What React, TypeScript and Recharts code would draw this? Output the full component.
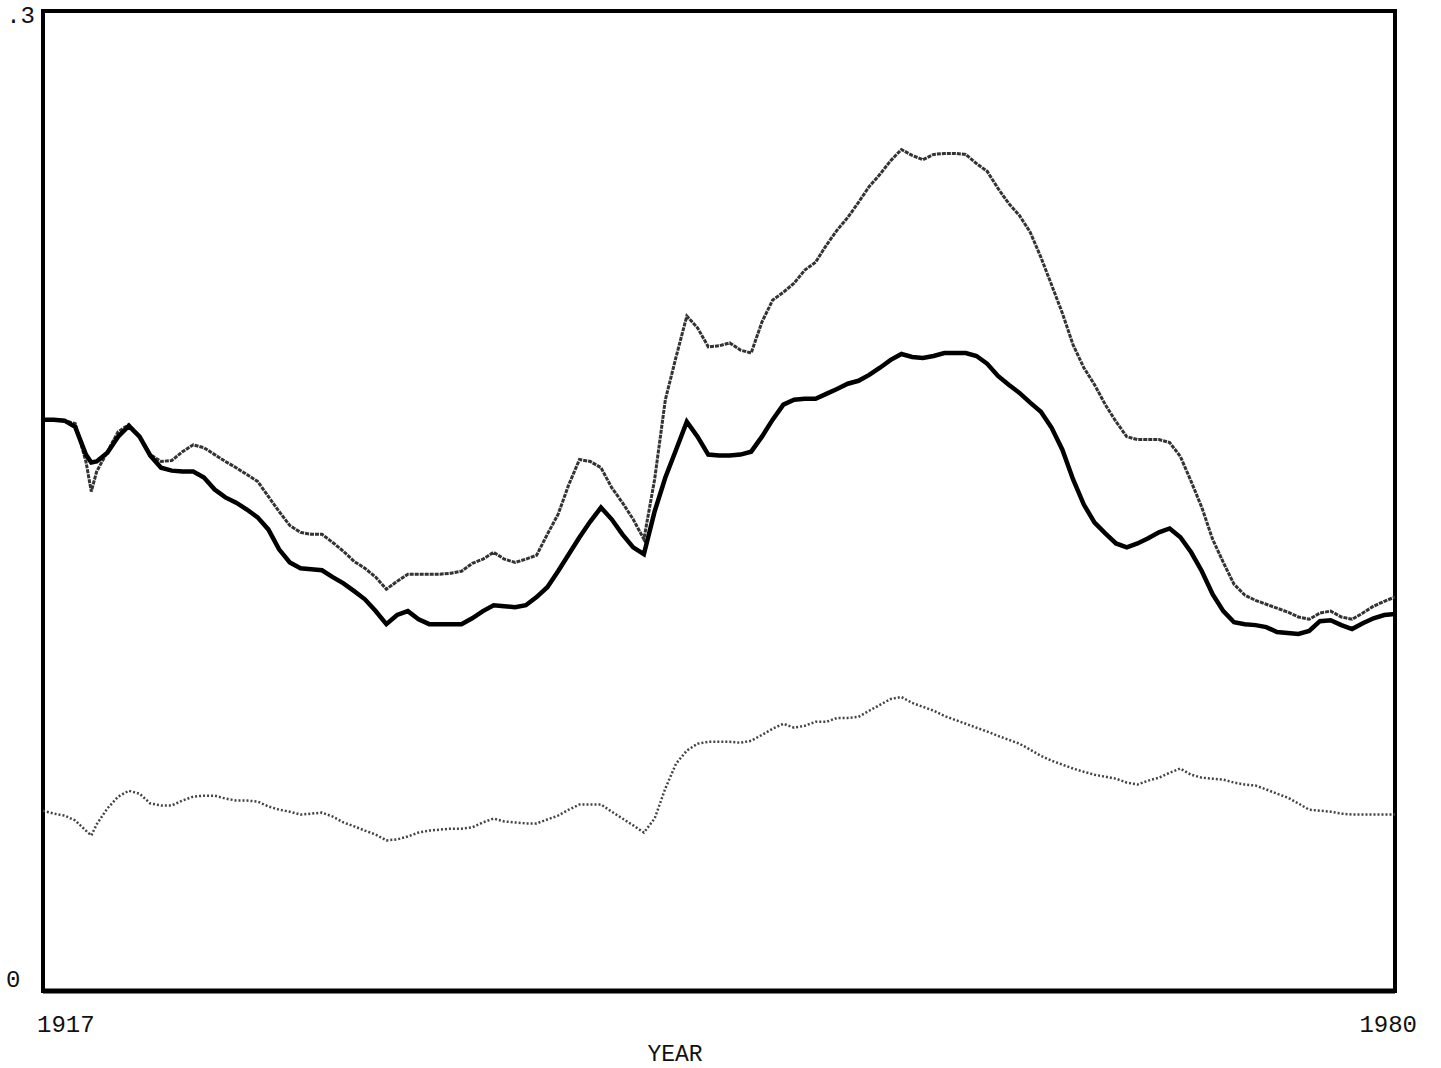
import React from 'react';
import { LineChart, Line, XAxis, YAxis, ReferenceArea } from 'recharts';

const YEARS = [
  1917, 1917.5, 1918, 1918.5, 1919, 1919.25, 1919.5,
  1920, 1920.5, 1921, 1921.5, 1922, 1922.5, 1923, 1923.5, 1924, 1924.5,
  1925, 1925.5, 1926, 1926.5, 1927, 1927.5, 1928, 1928.5, 1929, 1929.5,
  1930, 1930.5, 1931, 1931.5, 1932, 1932.5, 1933, 1933.5, 1934, 1934.5,
  1935, 1935.5, 1936, 1936.5, 1937, 1937.5, 1938, 1938.5, 1939, 1939.5,
  1940, 1940.5, 1941, 1941.5, 1942, 1942.5, 1943, 1943.5, 1944, 1944.5,
  1945, 1945.5, 1946, 1946.5, 1947, 1947.5, 1948, 1948.5, 1949, 1949.5,
  1950, 1950.5, 1951, 1951.5, 1952, 1952.5, 1953, 1953.5, 1954, 1954.5,
  1955, 1955.5, 1956, 1956.5, 1957, 1957.5, 1958, 1958.5, 1959, 1959.5,
  1960, 1960.5, 1961, 1961.5, 1962, 1962.5, 1963, 1963.5, 1964, 1964.5,
  1965, 1965.5, 1966, 1966.5, 1967, 1967.5, 1968, 1968.5, 1969, 1969.5,
  1970, 1970.5, 1971, 1971.5, 1972, 1972.5, 1973, 1973.5, 1974, 1974.5,
  1975, 1975.5, 1976, 1976.5, 1977, 1977.5, 1978, 1978.5, 1979, 1979.5,
  1980,
];

const UPPER = [
  0.1749, 0.1749, 0.1746, 0.1737, 0.1621, 0.1529,
  0.1590, 0.1651, 0.1712, 0.1734, 0.1697,
  0.1642, 0.1621, 0.1624, 0.1651, 0.1672, 0.1663, 0.1642, 0.1621, 0.1602, 0.1581,
  0.1560, 0.1514, 0.1468, 0.1425, 0.1404, 0.1398, 0.1398, 0.1373, 0.1346, 0.1315,
  0.1294, 0.1267, 0.1230, 0.1254, 0.1276, 0.1276, 0.1276, 0.1276, 0.1279, 0.1285,
  0.1309, 0.1322, 0.1343, 0.1322, 0.1312, 0.1322, 0.1334, 0.1398, 0.1459, 0.1550,
  0.1627, 0.1621, 0.1602, 0.1541, 0.1495, 0.1444, 0.1383, 0.1566, 0.1810, 0.1941,
  0.2066, 0.2030, 0.1972, 0.1975, 0.1984, 0.1962, 0.1953, 0.2048, 0.2115, 0.2139,
  0.2167, 0.2207, 0.2231, 0.2283, 0.2329, 0.2368, 0.2414, 0.2463, 0.2500, 0.2542,
  0.2576, 0.2558, 0.2545, 0.2561, 0.2564, 0.2564, 0.2561, 0.2533, 0.2509, 0.2457,
  0.2411, 0.2374, 0.2323, 0.2246, 0.2161, 0.2075, 0.1978, 0.1908, 0.1856, 0.1795,
  0.1743, 0.1697, 0.1688, 0.1688, 0.1688, 0.1679, 0.1636, 0.1560, 0.1480, 0.1383,
  0.1312, 0.1245, 0.1212, 0.1196, 0.1184, 0.1172, 0.1160, 0.1145, 0.1138, 0.1157,
  0.1163, 0.1145, 0.1138, 0.1157, 0.1178, 0.1193, 0.1206,
];

const MIDDLE = [
  0.1749, 0.1749, 0.1746, 0.1727, 0.1642, 0.1618,
  0.1621, 0.1648, 0.1697, 0.1730, 0.1697,
  0.1639, 0.1602, 0.1593, 0.1590, 0.1590, 0.1572, 0.1535, 0.1511, 0.1495, 0.1474,
  0.1450, 0.1413, 0.1352, 0.1312, 0.1294, 0.1291, 0.1288, 0.1267, 0.1248, 0.1224,
  0.1199, 0.1163, 0.1123, 0.1151, 0.1163, 0.1138, 0.1123, 0.1123, 0.1123, 0.1123,
  0.1141, 0.1163, 0.1181, 0.1178, 0.1175, 0.1181, 0.1206, 0.1236, 0.1285, 0.1337,
  0.1389, 0.1437, 0.1480, 0.1444, 0.1398, 0.1358, 0.1337, 0.1468, 0.1572, 0.1657,
  0.1743, 0.1697, 0.1642, 0.1639, 0.1639, 0.1642, 0.1651, 0.1697, 0.1749, 0.1795,
  0.1810, 0.1813, 0.1813, 0.1828, 0.1843, 0.1859, 0.1868, 0.1886, 0.1908, 0.1932,
  0.1950, 0.1941, 0.1938, 0.1944, 0.1953, 0.1953, 0.1953, 0.1944, 0.1920, 0.1883,
  0.1856, 0.1831, 0.1801, 0.1773, 0.1724, 0.1657, 0.1566, 0.1489, 0.1434, 0.1401,
  0.1370, 0.1358, 0.1370, 0.1386, 0.1404, 0.1416, 0.1389, 0.1343, 0.1285, 0.1215,
  0.1163, 0.1129, 0.1123, 0.1120, 0.1114, 0.1099, 0.1096, 0.1093, 0.1102, 0.1132,
  0.1135, 0.1120, 0.1108, 0.1126, 0.1141, 0.1151, 0.1154,
];

const LOWER = [
  0.0552, 0.0543, 0.0537, 0.0522, 0.0491, 0.0476,
  0.0510, 0.0559, 0.0595, 0.0613, 0.0604,
  0.0574, 0.0568, 0.0568, 0.0583, 0.0595, 0.0598, 0.0598, 0.0589, 0.0583, 0.0583,
  0.0580, 0.0565, 0.0555, 0.0549, 0.0540, 0.0543, 0.0546, 0.0534, 0.0516, 0.0504,
  0.0491, 0.0479, 0.0461, 0.0464, 0.0473, 0.0485, 0.0491, 0.0494, 0.0497, 0.0497,
  0.0501, 0.0516, 0.0528, 0.0519, 0.0516, 0.0513, 0.0513, 0.0525, 0.0537, 0.0555,
  0.0571, 0.0571, 0.0571, 0.0549, 0.0528, 0.0507, 0.0485, 0.0528, 0.0620, 0.0696,
  0.0736, 0.0757, 0.0763, 0.0763, 0.0763, 0.0760, 0.0766, 0.0784, 0.0803, 0.0818,
  0.0806, 0.0812, 0.0824, 0.0824, 0.0836, 0.0836, 0.0839, 0.0858, 0.0876, 0.0894,
  0.0900, 0.0882, 0.0870, 0.0858, 0.0842, 0.0830, 0.0818, 0.0806, 0.0794, 0.0781,
  0.0769, 0.0757, 0.0739, 0.0720, 0.0705, 0.0693, 0.0681, 0.0671, 0.0662, 0.0656,
  0.0650, 0.0638, 0.0632, 0.0644, 0.0653, 0.0668, 0.0681, 0.0662, 0.0653, 0.0650,
  0.0647, 0.0638, 0.0632, 0.0629, 0.0617, 0.0604, 0.0592, 0.0574, 0.0555, 0.0552,
  0.0549, 0.0543, 0.0540, 0.0540, 0.0540, 0.0540, 0.0540,
];

const X_TICKS = [1917, 1980];
const Y_TICKS = [0, 0.3];
const Y_TICK_LABELS = ['0', '.3'];
const X_LABEL = 'YEAR';

const FONT = '"Liberation Mono", "DejaVu Sans Mono", monospace';

const data = YEARS.map((year, i) => ({
  year,
  upper: UPPER[i],
  middle: MIDDLE[i],
  lower: LOWER[i],
}));

const XTick = (props: any) => {
  const { x, y, payload } = props;
  const first = payload.value === X_TICKS[0];
  return (
    <text
      x={first ? x - 6 : x + 22}
      y={y + 41}
      textAnchor={first ? 'start' : 'end'}
      fontFamily={FONT}
      fontSize={24}
      fill="#111"
    >
      {String(payload.value)}
    </text>
  );
};

const YTick = (props: any) => {
  const { x, y, payload } = props;
  let idx = Y_TICKS.findIndex((t) => Math.abs(t - Number(payload.value)) < 1e-9);
  if (idx < 0) idx = 0;
  const isTop = idx === 1;
  return (
    <text
      x={isTop ? x - 8 : x - 37}
      y={isTop ? y + 12 : y - 4}
      textAnchor={isTop ? 'end' : 'start'}
      fontFamily={FONT}
      fontSize={24}
      fill="#111"
    >
      {Y_TICK_LABELS[idx]}
    </text>
  );
};

const YearLabel = (props: any) => {
  const vb = props.viewBox || { x: 0, y: 0, width: 0, height: 0 };
  return (
    <text
      x={vb.x + vb.width / 2 - 44}
      y={vb.y + 70}
      textAnchor="middle"
      fontFamily={FONT}
      fontSize={23}
      fill="#111"
    >
      {X_LABEL}
    </text>
  );
};

export default function App() {
  return (
    <div style={{ position: 'absolute', left: 0, top: 0, width: 1441, height: 1068, background: '#fff' }}>
      <LineChart
        width={1441}
        height={1068}
        data={data}
        margin={{ top: 11, right: 46, bottom: 0, left: 0 }}
      >
        <XAxis
          dataKey="year"
          type="number"
          domain={[1917, 1980]}
          ticks={X_TICKS}
          tick={<XTick />}
          tickLine={false}
          tickSize={0}
          tickMargin={0}
          axisLine={{ stroke: '#000', strokeWidth: 5 }}
          height={77}
          allowDataOverflow
          label={<YearLabel />}
        />
        <YAxis
          type="number"
          domain={[0, 0.3]}
          ticks={Y_TICKS}
          tick={<YTick />}
          tickLine={false}
          tickSize={0}
          tickMargin={0}
          axisLine={false}
          width={43}
          interval={0}
          allowDataOverflow
        />
        <ReferenceArea
          x1={1917}
          x2={1980}
          y1={0}
          y2={0.3}
          fill="none"
          fillOpacity={0}
          stroke="#000"
          strokeWidth={4}
          ifOverflow="visible"
        />
        <Line
          type="linear"
          dataKey="lower"
          stroke="#444"
          strokeWidth={2.5}
          strokeDasharray="2 2"
          dot={false}
          isAnimationActive={false}
        />
        <Line
          type="linear"
          dataKey="upper"
          stroke="#333"
          strokeWidth={3}
          strokeDasharray="4 1"
          dot={false}
          isAnimationActive={false}
        />
        <Line
          type="linear"
          dataKey="middle"
          stroke="#000"
          strokeWidth={4.5}
          dot={false}
          isAnimationActive={false}
        />
      </LineChart>
    </div>
  );
}
